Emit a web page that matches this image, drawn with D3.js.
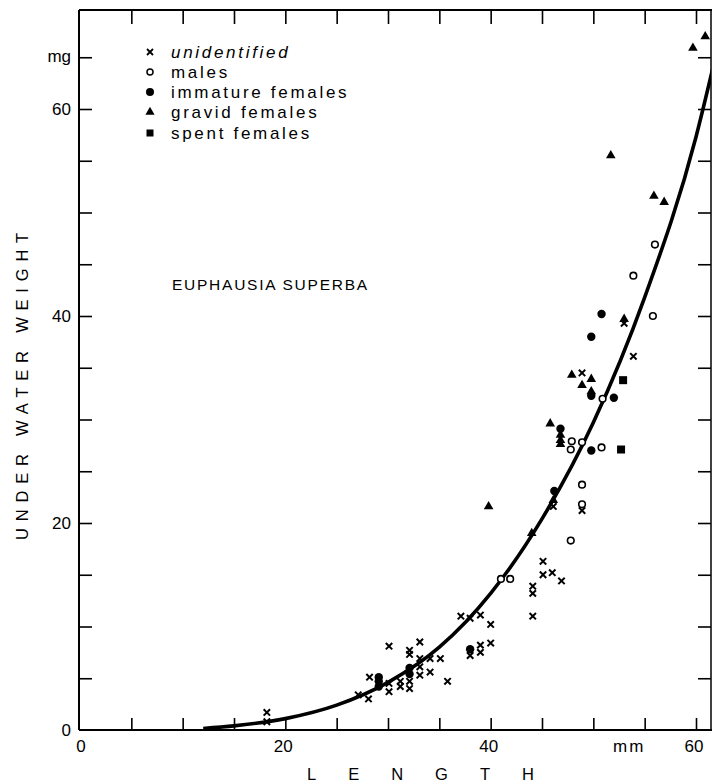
<!DOCTYPE html>
<html><head><meta charset="utf-8">
<script src="https://cdn.jsdelivr.net/npm/d3@7"></script>
<style>
html,body{margin:0;padding:0;background:#fff;}
svg{display:block;font-family:"Liberation Sans",Arial,Helvetica,sans-serif;}
</style></head>
<body><svg id="c" width="712" height="782"></svg>
<script>
// ---- data (length mm, under-water weight mg) ----
const unidentified = [
 [18.2,1.7],[18.2,0.8],[27.1,3.4],[28.1,3.0],[28.2,5.1],[30.1,8.1],[30.1,4.5],[30.1,3.7],
 [31.2,4.7],[31.2,4.2],[32.1,7.7],[32.1,7.3],[32.1,4.7],[32.1,4.0],[33.1,8.5],[33.1,6.9],
 [33.1,6.1],[33.1,5.3],[34.1,6.9],[34.1,5.6],[35.1,6.9],[35.8,4.7],[37.1,11.0],[38.0,10.8],
 [38.0,7.2],[39.0,11.1],[39.0,8.2],[39.0,7.5],[40.0,10.2],[40.0,8.4],[44.1,13.9],[44.1,13.2],
 [44.1,11.0],[45.1,16.3],[45.1,15.0],[46.0,15.2],[46.9,14.4],[46.1,21.6],[48.9,21.2],
 [48.9,34.5],[53.0,39.3],[53.9,36.1]
];
const males = [
 [41.0,14.6],[41.9,14.6],[47.8,18.3],[48.9,23.7],[48.9,21.8],[47.9,27.9],[47.8,27.1],
 [48.9,27.8],[50.9,32.0],[50.8,27.3],[53.9,43.9],[56.0,46.9],[55.8,40.0]
];
const immatureFemales = [
 [29.1,5.1],[29.1,4.7],[29.1,4.2],[32.1,6.0],[32.1,5.4],[38.0,7.8],[46.2,23.1],[46.8,29.1],
 [49.8,32.3],[52.0,32.1],[49.8,27.0],[49.8,38.0],[50.8,40.2]
];
const gravidFemales = [
 [39.8,21.6],[44.0,19.0],[46.1,22.2],[45.8,29.6],[46.8,28.5],[46.8,28.0],[46.8,27.6],
 [47.9,34.3],[48.9,33.3],[49.8,33.9],[49.8,32.7],[53.0,39.7],[51.7,55.5],[55.9,51.6],
 [56.9,51.0],[59.7,65.9],[60.9,67.0]
];
const spentFemales = [[52.9,33.8],[52.7,27.1]];
// fitted curve
const curveLength = [12,15,20,25,30,35,40,45,50,55,60,61.7];
const curveWeight = [0.15,0.4,1.1,2.4,4.6,8.0,13.2,20.4,29.7,41.8,57.3,64.2];
const xTickValues = [5,10,15,20,25,30,35,40,45,50,55,60];
const yTickValues = [5,10,15,20,25,30,35,40,45,50,55,60,65];
const xTickLabels = ["0","20","40","60"];
const yTickLabels = ["0","20","40","60"];
const legendLabels = ["unidentified","males","immature females","gravid females","spent females"];

const svg = d3.select("#c");
const x = d3.scaleLinear().domain([0,60]).range([80,696]);
const y = d3.scaleLinear().domain([0,60]).range([730,109]);
const L = 79, R = 711, T = 10, B = 730;

// frame
const frame = svg.append("g").attr("stroke","#000").attr("fill","none");
frame.append("line").attr("x1",L).attr("x2",L).attr("y1",T).attr("y2",B).attr("stroke-width",2);
frame.append("line").attr("x1",L).attr("x2",R+1).attr("y1",T).attr("y2",T).attr("stroke-width",2);
frame.append("line").attr("x1",L).attr("x2",R+1).attr("y1",B).attr("y2",B).attr("stroke-width",2);
frame.append("line").attr("x1",R).attr("x2",R).attr("y1",T).attr("y2",B).attr("stroke-width",1.5);

// axes (ticks inward) via d3 axis generators
function styleAxis(g){ g.select(".domain").remove(); g.selectAll(".tick line").attr("stroke","#000").attr("stroke-width",1.6); g.selectAll(".tick text").remove(); }
svg.append("g").attr("transform",`translate(0,${B})`)
  .call(d3.axisTop(x).tickValues(xTickValues).tickSize(12).tickFormat("")).call(styleAxis);
svg.append("g").attr("transform",`translate(0,${T+1})`)
  .call(d3.axisBottom(x).tickValues(xTickValues).tickSize(13).tickFormat("")).call(styleAxis);
svg.append("g").attr("transform",`translate(${L},0)`)
  .call(d3.axisRight(y).tickValues(yTickValues).tickSize(13).tickFormat("")).call(styleAxis);
svg.append("g").attr("transform",`translate(${R},0)`)
  .call(d3.axisLeft(y).tickValues(yTickValues).tickSize(13).tickFormat("")).call(styleAxis);

// tick labels
svg.append("g").selectAll("text").data(xTickLabels).join("text")
  .attr("x",d=>x(+d)+ (d==="0"?1:-2)).attr("y",752).attr("text-anchor","middle")
  .attr("font-size",17).text(d=>d);
svg.append("g").selectAll("text").data(yTickLabels).join("text")
  .attr("x",71).attr("y",d=>y(+d)+6).attr("text-anchor","end")
  .attr("font-size",17).text(d=>d);
svg.append("text").attr("x",71).attr("y",y(65)+5).attr("text-anchor","end").attr("font-size",17).text("mg");
svg.append("text").attr("x",x(53.5)).attr("y",752).attr("text-anchor","middle").attr("font-size",17).attr("letter-spacing",2).text("mm");

// axis titles
svg.append("text").attr("x",307).attr("y",780).attr("font-size",16.5).attr("letter-spacing",32).text("LENGTH");
svg.append("text").attr("transform","translate(28,383) rotate(-90)").attr("text-anchor","middle")
  .attr("font-size",16.5).attr("letter-spacing",6.8).text("UNDER WATER WEIGHT");
svg.append("text").attr("x",172).attr("y",290).attr("font-size",15.5).attr("letter-spacing",1.75).text("EUPHAUSIA SUPERBA");

// curve
const curvePts = curveLength.map((l,i)=>[l,curveWeight[i]]);
svg.append("clipPath").attr("id","clip").append("rect").attr("x",L).attr("y",T).attr("width",R-L).attr("height",B-T);
svg.append("path").datum(curvePts).attr("clip-path","url(#clip)")
  .attr("d",d3.line().x(d=>x(d[0])).y(d=>y(d[1])).curve(d3.curveMonotoneX))
  .attr("fill","none").attr("stroke","#000").attr("stroke-width",3.6);

// symbols
function drawCross(g,data,s){
  g.selectAll("path.x").data(data).join("path").attr("class","x")
   .attr("d",d=>{const cx=x(d[0]),cy=y(d[1]);return `M${cx-s},${cy-s}L${cx+s},${cy+s}M${cx-s},${cy+s}L${cx+s},${cy-s}`;})
   .attr("stroke","#000").attr("stroke-width",2).attr("fill","none");
}
const pts = svg.append("g");
drawCross(pts.append("g"),unidentified,3.2);
pts.append("g").selectAll("circle").data(males).join("circle")
  .attr("cx",d=>x(d[0])).attr("cy",d=>y(d[1])).attr("r",3.3).attr("fill","#fff").attr("stroke","#000").attr("stroke-width",1.6);
pts.append("g").selectAll("circle").data(immatureFemales).join("circle")
  .attr("cx",d=>x(d[0])).attr("cy",d=>y(d[1])).attr("r",4.2).attr("fill","#000");
const tri = d3.symbol().type(d3.symbolTriangle).size(40);
pts.append("g").selectAll("path").data(gravidFemales).join("path")
  .attr("transform",d=>`translate(${x(d[0])},${y(d[1])})`).attr("d",tri).attr("fill","#000");
pts.append("g").selectAll("rect").data(spentFemales).join("rect")
  .attr("x",d=>x(d[0])-4).attr("y",d=>y(d[1])-4).attr("width",8).attr("height",8).attr("fill","#000");

// legend
const lg = svg.append("g");
const rowY = [52,72,92,112,133];
lg.selectAll("text").data(legendLabels).join("text")
  .attr("x",171).attr("y",(d,i)=>rowY[i]+6).attr("font-size",17).attr("letter-spacing",2.7)
  .attr("font-style",(d,i)=>i===0?"italic":"normal").text(d=>d);
const sx = 150;
lg.append("path").attr("d",`M${sx-3},${rowY[0]-3}L${sx+3},${rowY[0]+3}M${sx-3},${rowY[0]+3}L${sx+3},${rowY[0]-3}`).attr("stroke","#000").attr("stroke-width",1.8);
lg.append("circle").attr("cx",sx).attr("cy",rowY[1]).attr("r",3).attr("fill","#fff").attr("stroke","#000").attr("stroke-width",1.5);
lg.append("circle").attr("cx",sx).attr("cy",rowY[2]).attr("r",4).attr("fill","#000");
lg.append("path").attr("transform",`translate(${sx},${rowY[3]})`).attr("d",d3.symbol().type(d3.symbolTriangle).size(36)).attr("fill","#000");
lg.append("rect").attr("x",sx-3.5).attr("y",rowY[4]-3.5).attr("width",7).attr("height",7).attr("fill","#000");
</script></body></html>
